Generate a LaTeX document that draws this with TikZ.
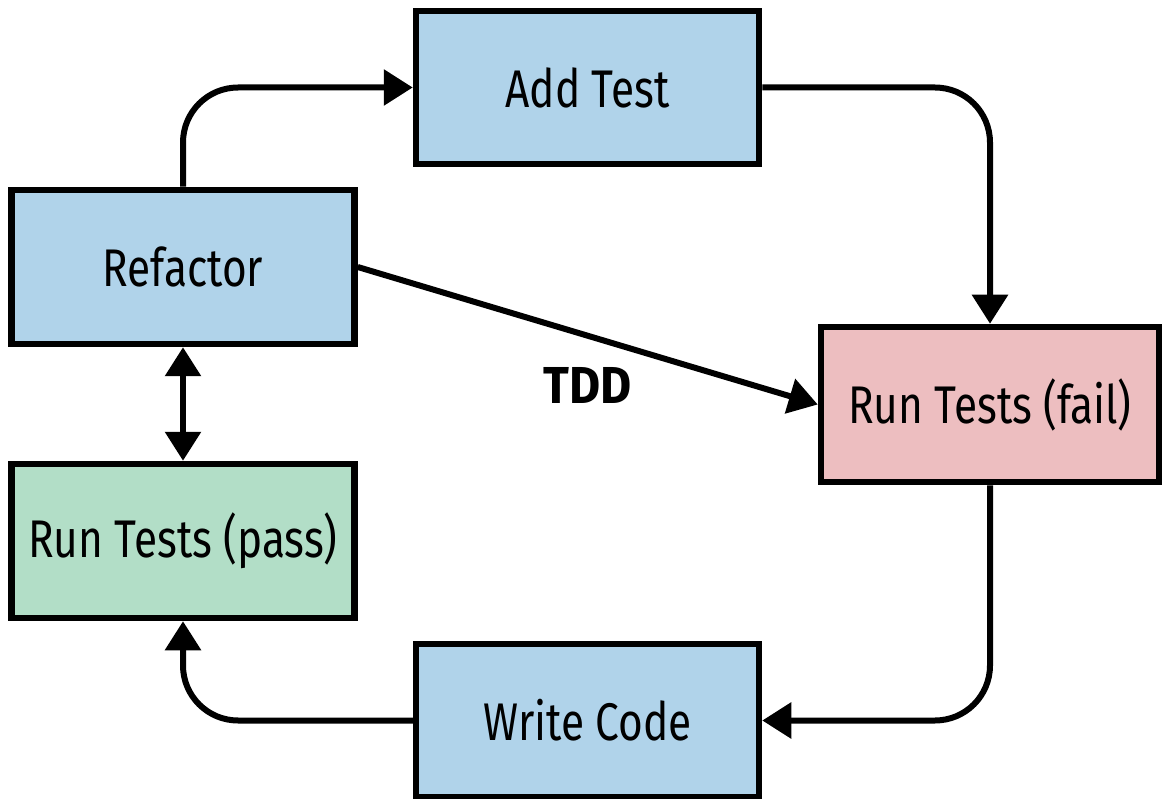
\documentclass[tikz,border=0pt]{standalone}
\usepackage{fontspec}
\setmainfont[FakeStretch=0.80]{Fira Sans}
\newfontfamily\tddfont[FakeStretch=0.92]{Fira Sans}
\usetikzlibrary{arrows.meta}
\definecolor{boxblue}{HTML}{B0D3EA}
\definecolor{boxred}{HTML}{EDBEC0}
\definecolor{boxgreen}{HTML}{B2DEC7}
\begin{document}
\begin{tikzpicture}[x=1pt,y=-1pt,
  stepbox/.style={draw=black,line width=6.5pt,inner sep=0pt,minimum width=343pt,minimum height=153pt,font=\fontsize{53}{58}\selectfont},
  conn/.style={line width=6pt,-{Triangle[length=29pt,width=35pt]}},
  lbl/.style={font=\tddfont\bfseries\fontsize{52}{56}\selectfont}]
\useasboundingbox (0,0) rectangle (1162,799);
\node[stepbox,fill=boxblue] (add) at (587.5,87.5) {Add Test};
\node[stepbox,fill=boxblue,minimum height=154pt] (ref) at (183,267) {Refactor};
\node[stepbox,fill=boxred,minimum width=338pt,minimum height=155pt] (fail) at (990,404.5) {Run Tests (fail)};
\node[stepbox,fill=boxgreen,minimum height=154pt] (pass) at (183,541) {Run Tests (pass)};
\node[stepbox,fill=boxblue] (write) at (587.5,720.5) {Write Code};
\draw[conn,rounded corners=55pt] (ref.north) |- (add.west);
\draw[conn,rounded corners=55pt] (add.east) -| (fail.north);
\draw[conn,rounded corners=55pt] (fail.south) |- (write.east);
\draw[conn,rounded corners=55pt] (write.west) -| (pass.south);
\draw[line width=6pt,{Triangle[length=29pt,width=35pt]}-{Triangle[length=29pt,width=35pt]}] (ref.south) -- (pass.north);
\draw[conn] (ref.east) -- (fail.west);
\node[lbl] (tdd) at (588,385) {TDD};
\end{tikzpicture}
\end{document}
